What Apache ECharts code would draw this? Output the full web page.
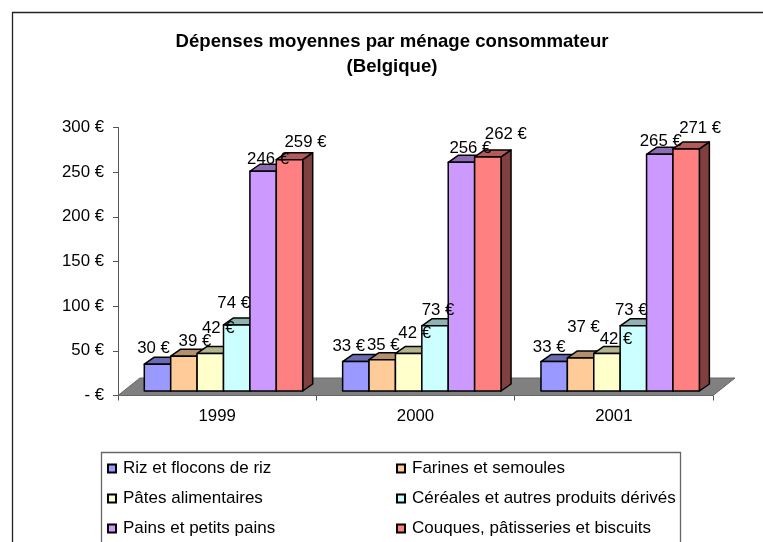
<!DOCTYPE html>
<html>
<head>
<meta charset="utf-8">
<style>
html, body { margin: 0; padding: 0; background: #fff; }
#chart { width: 763px; height: 542px; }
</style>
<script src="https://cdn.jsdelivr.net/npm/echarts@6/dist/echarts.min.js"></script>
</head>
<body>
<div id="chart"></div>
<script>
const years = ['1999', '2000', '2001']
const riz = [30, 33, 33]
const farines = [39, 35, 37]
const pates = [42, 42, 42]
const cereales = [74, 73, 73]
const pains = [246, 256, 265]
const couques = [259, 262, 271]
const names = ['Riz et flocons de riz', 'Farines et semoules', 'Pâtes alimentaires', 'Céréales et autres produits dérivés', 'Pains et petits pains', 'Couques, pâtisseries et biscuits']
const values = [riz, farines, pates, cereales, pains, couques]
const colors = ['#9999ff', '#ffcc99', '#ffffcc', '#ccffff', '#cc99ff', '#ff8080']
const tops = ['#6b6bb3', '#b38f6b', '#b3b38f', '#8fb3b3', '#8f6bb3', '#b35a5a']
const sides = ['#4d4d80', '#806650', '#808066', '#668080', '#664d80', '#804040']

// excel moves the value labels around by hand, one [dx, dy] per series and year
const labelNudge = [
    [[-4, -16], [-7, -15], [-5, -14]],
    [[11, -15], [1, -14], [3, -31]],
    [[8, -25], [6, -20], [9, -14]],
    [[-3, -22], [3, -15], [-2, -15]],
    [[5, -12], [9, -14], [1, -13]],
    [[16, -17], [18, -23], [14, -21]]
]

const font = '"Liberation Sans", Arial, sans-serif'
const fontPx = 16.8
const barW = 26.4
const depthX = 10
const depthY = 7
const floorX = 22
const floorY = 17.5
const baseUp = 4.5
const firstBar = 26.3

const poly = (points, fill) => ({
    type: 'polygon',
    shape: { points },
    style: { fill, stroke: '#000', lineWidth: 1.5, lineJoin: 'round' }
})

const barSeries = (idx) => ({
    type: 'custom',
    name: names[idx],
    itemStyle: { color: colors[idx], borderColor: '#000', borderWidth: 1.5 },
    data: values[idx].map((v, i) => [i, v]),
    renderItem: (params, api) => {
        const cat = api.value(0)
        const val = api.value(1)
        const band = api.size([1, 0])[0]
        const start = api.coord([cat, 0])[0] - band / 2
        const base = api.coord([cat, 0])[1] - baseUp
        const top = api.coord([cat, val])[1] - baseUp
        const l = start + firstBar + idx * barW
        const r = l + barW
        const nudge = labelNudge[idx][cat]
        return {
            type: 'group',
            children: [
                poly([[r, base], [r + depthX, base - depthY], [r + depthX, top - depthY], [r, top]], sides[idx]),
                poly([[l, top], [l + depthX, top - depthY], [r + depthX, top - depthY], [r, top]], tops[idx]),
                poly([[l, base], [r, base], [r, top], [l, top]], colors[idx]),
                {
                    type: 'text',
                    z2: 100,
                    style: {
                        text: val + ' €',
                        x: (l + r) / 2 + nudge[0],
                        y: top + nudge[1],
                        align: 'center',
                        verticalAlign: 'middle',
                        font: fontPx + 'px ' + font,
                        fill: '#000'
                    }
                }
            ]
        }
    }
})

const floorSeries = {
    type: 'custom',
    silent: true,
    data: [[0, 0]],
    renderItem: (params, api) => {
        const band = api.size([1, 0])[0]
        const p0 = api.coord([0, 0])
        const p2 = api.coord([years.length - 1, 0])
        const a = p0[0] - band / 2
        const b = p2[0] + band / 2
        const y = p0[1]
        return {
            type: 'polygon',
            shape: { points: [[a, y], [a + floorX, y - floorY], [b + floorX, y - floorY], [b, y]] },
            style: { fill: '#808080', stroke: '#666', lineWidth: 1 }
        }
    }
}

const legendText = { fontFamily: font, fontSize: 17, color: '#000', padding: [0, 0, 0, 2] }

const option = {
    backgroundColor: '#fff',
    animation: false,
    title: {
        text: 'Dépenses moyennes par ménage consommateur\n(Belgique)',
        left: 387,
        top: 24,
        textAlign: 'center',
        textStyle: { fontFamily: font, fontSize: 18.6, fontWeight: 'bold', color: '#000', lineHeight: 25 }
    },
    grid: { left: 118, right: 50, top: 127.5, height: 268 },
    xAxis: {
        type: 'category',
        data: years,
        axisLine: { lineStyle: { color: '#555', width: 1 } },
        axisTick: { show: true, length: 5, lineStyle: { color: '#555' } },
        axisLabel: { fontFamily: font, fontSize: fontPx, color: '#000', margin: 12 }
    },
    yAxis: {
        type: 'value',
        min: 0,
        max: 300,
        interval: 50,
        splitLine: { show: false },
        axisLine: { show: true, lineStyle: { color: '#555', width: 1 } },
        axisTick: { show: true, length: 5, lineStyle: { color: '#555' } },
        axisLabel: {
            fontFamily: font,
            fontSize: fontPx,
            color: '#000',
            margin: 14,
            formatter: (v) => (v === 0 ? '- €' : v + ' €')
        }
    },
    legend: [
        {
            orient: 'vertical', left: 107, top: 460, itemGap: 13, itemWidth: 8, itemHeight: 8,
            icon: 'rect', textStyle: legendText, selectedMode: false, padding: 0,
            data: [names[0], names[2], names[4]]
        },
        {
            orient: 'vertical', left: 396, top: 460, itemGap: 13, itemWidth: 8, itemHeight: 8,
            icon: 'rect', textStyle: legendText, selectedMode: false, padding: 0,
            data: [names[1], names[3], names[5]]
        }
    ],
    graphic: [
        {
            type: 'rect', silent: true, z: -1,
            shape: { x: 12.5, y: 12.5, width: 780, height: 560 },
            style: { fill: 'none', stroke: '#222', lineWidth: 1.3 }
        },
        {
            type: 'rect', silent: true, z: -1,
            shape: { x: 101.5, y: 452.5, width: 579, height: 100 },
            style: { fill: 'none', stroke: '#666', lineWidth: 1.3 }
        }
    ],
    series: [floorSeries].concat(names.map((n, i) => barSeries(i)))
}

const chart = echarts.init(document.getElementById('chart'))
chart.setOption(option)
</script>
</body>
</html>
